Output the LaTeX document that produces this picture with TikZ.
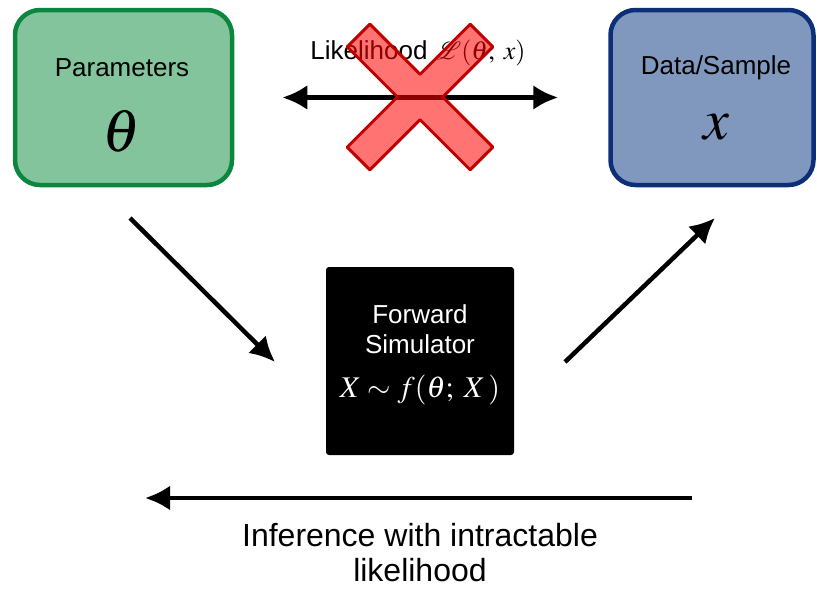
\documentclass[tikz,border=0pt]{standalone}
\usepackage{mathptmx}
\usepackage{mathrsfs}
\usepackage{fontspec}
\setmainfont{Liberation Sans}
\usetikzlibrary{arrows.meta}
\definecolor{parfill}{RGB}{132,196,156}
\definecolor{pardraw}{RGB}{11,134,62}
\definecolor{datfill}{RGB}{128,152,190}
\definecolor{datdraw}{RGB}{13,47,120}
\definecolor{crossdraw}{RGB}{192,0,0}
\tikzset{
  box/.style={rounded corners=25pt,line width=4.5pt,minimum width=#1,minimum height=175pt,align=center},
  txt/.style={font=\fontsize{26}{30}\selectfont},
  arr/.style={line width=4.5pt,-{Latex[length=25pt,width=25pt]}},
  arrtwo/.style={line width=5pt,{Latex[length=25pt,width=25pt]}-{Latex[length=25pt,width=25pt]}}
}
\begin{document}
\begin{tikzpicture}[x=1pt,y=-1pt]
\useasboundingbox (0,0) rectangle (817,589);
\node[box=217pt,fill=parfill,draw=pardraw](param) at (123.5,97.5){};
\node[txt](partxt) at (122,68){Parameters};
\node[font=\fontsize{60}{60}\selectfont](theta) at (122,131){$\theta$};
\node[box=203pt,fill=datfill,draw=datdraw](data) at (712,97.5){};
\node[txt](dattxt) at (716,68){Data/Sample};
\node[font=\fontsize{58}{58}\selectfont](x) at (716,127){$x$};
\node[txt](lik) at (418,53){Likelihood $\mathscr{L}(\theta;\;x)$};
\draw[arrtwo,shorten <=48pt,shorten >=50pt](param)--(data);
\begin{scope}[shift={(420,97)},rotate=45]
\draw[line width=3pt,line join=round,draw=crossdraw,fill=red,fill opacity=0.55]
 (16,16)--(87,16)--(87,-16)--(16,-16)--(16,-87)--(-16,-87)--(-16,-16)--(-87,-16)
 --(-87,16)--(-16,16)--(-16,87)--(16,87)--cycle;
\end{scope}
\node[fill=black,rounded corners=3pt,minimum width=188pt,minimum height=188pt](sim) at (420,361){};
\node[txt,text=white,align=center](simtxt) at (420,329){Forward\\Simulator};
\node[text=white,font=\fontsize{30}{32}\selectfont](f) at (420,390){$X\sim f(\theta;\;X\,)$};
\coordinate (a1) at (130,218);
\coordinate (a2) at (275,362);
\coordinate (b1) at (565,362);
\coordinate (b2) at (715,218);
\coordinate (c1) at (692,498);
\coordinate (c2) at (145,498);
\draw[arr](a1)--(a2);
\draw[arr](b1)--(b2);
\draw[arr](c1)--(c2);
\node[align=center,inner sep=0pt,font=\fontsize{32}{35}\selectfont](inf) at (420,553){Inference with intractable\\likelihood};
\end{tikzpicture}
\end{document}
